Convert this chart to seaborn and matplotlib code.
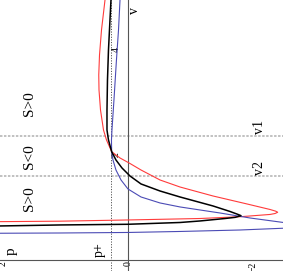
import numpy as np
import pandas as pd
import matplotlib
matplotlib.use("Agg")
import matplotlib.pyplot as plt
import seaborn as sns
from matplotlib.ticker import FixedLocator, MultipleLocator

sns.set_style("white")
plt.rcParams['font.family'] = ['Liberation Serif', 'DejaVu Serif']

# ---- data (p, v) ----
black_p = [0.273, 0.289, 0.313, 0.329, 0.337, 0.337, 0.313, 0.262, 0.193, 0.096, -0.032, -0.209,
           -0.514, -0.835, -1.364, -1.637, -1.760, -1.814, -1.720, -1.557, -1.156, -0.835, 0.0, 1.091, 2.054]
black_v = [4.95, 4.571, 4.0, 3.429, 2.857, 2.476, 2.286, 2.063, 1.905, 1.752, 1.6, 1.448,
           1.314, 1.2, 1.029, 0.924, 0.870, 0.844, 0.812, 0.790, 0.743, 0.714, 0.68, 0.667, 0.648]

red_p = [0.369, 0.425, 0.457, 0.469, 0.465, 0.441, 0.393, 0.345, 0.262, 0.128, -0.032, -0.209,
         -0.514, -0.835, -1.364, -1.910, -2.279, -2.370, -2.403, -2.360, -2.279, -1.814, -1.156, 0.0, 1.091, 2.054]
red_v = [4.95, 4.381, 3.905, 3.524, 3.238, 2.857, 2.476, 2.286, 2.063, 1.943, 1.838, 1.714,
         1.524, 1.390, 1.219, 1.067, 0.962, 0.930, 0.909, 0.885, 0.867, 0.825, 0.790, 0.762, 0.739, 0.730]

blue_p = [0.128, 0.152, 0.185, 0.225, 0.257, 0.265, 0.262, 0.241, 0.193, 0.112, 0.0, -0.209,
          -0.514, -0.835, -1.477, -1.958, -2.520, -2.70, -2.520, -1.798, -0.835, 0.0, 1.091, 2.054]
blue_v = [4.95, 4.381, 3.810, 3.048, 2.476, 2.286, 2.063, 1.905, 1.714, 1.524, 1.352, 1.2,
          1.086, 1.010, 0.895, 0.8, 0.710, 0.66, 0.606, 0.571, 0.543, 0.524, 0.514, 0.509]

p_plus = 0.273
v1 = 2.362
v2 = 1.60
x_major = [-2, 0, 2]
y_major = [2, 4]
region_labels = ["S>0", "S<0", "S>0"]
region_v = [2.985, 1.968, 1.175]

fig = plt.figure(figsize=(2.83, 2.71), dpi=100)
ax = fig.add_axes([0, 0, 1, 1])

# reference lines
for vv in (v1, v2):
    ax.axhline(vv, color='#b0b0b0', lw=1.1, ls=(0, (1.6, 1.0)), zorder=1)
ax.axvline(p_plus, color='#555555', lw=0.7, ls=(0, (1.2, 1.5)), zorder=1)

# curves
curves = [("red", red_p, red_v, '#ff3b3b', 0.8),
          ("blue", blue_p, blue_v, '#4b4bb5', 0.8),
          ("black", black_p, black_v, 'black', 1.1)]
for name, pp, vv, col, lw in curves:
    df = pd.DataFrame({"p": pp, "v": vv})
    sns.lineplot(data=df, x="p", y="v", sort=False, estimator=None, color=col,
                 lw=lw, ax=ax, zorder=4 if name == "black" else 3)

ax.set_xlim(2.054, -2.488)
ax.set_ylim(-0.21, 4.952)
ax.set_xlabel("")
ax.set_ylabel("")

# axes through origin
for s in ('top', 'right'):
    ax.spines[s].set_visible(False)
ax.spines['left'].set_position(('data', 0))
ax.spines['bottom'].set_position(('data', 0))
for s in ('left', 'bottom'):
    ax.spines[s].set_color('#555555')
    ax.spines[s].set_linewidth(0.8)

ax.xaxis.set_major_locator(FixedLocator(x_major))
ax.xaxis.set_minor_locator(MultipleLocator(0.4))
ax.yaxis.set_major_locator(FixedLocator(y_major))
ax.yaxis.set_minor_locator(MultipleLocator(0.4))
ax.set_xticklabels([str(t).replace('-', '\u2212') for t in x_major])
ax.set_yticklabels([str(t) for t in y_major])
ax.tick_params(axis='x', which='both', direction='in', colors='#555555', labelcolor='black',
               labelsize=7, labelrotation=90, pad=1)
ax.tick_params(axis='x', which='major', length=4, width=0.7)
ax.tick_params(axis='x', which='minor', length=2.5, width=0.6)
ax.tick_params(axis='y', which='both', direction='out', colors='#555555', labelcolor='black',
               labelsize=7, labelrotation=90, pad=1)
ax.tick_params(axis='y', which='major', length=4, width=0.7)
ax.tick_params(axis='y', which='minor', length=2.5, width=0.6)
for lab in ax.get_yticklabels():
    lab.set_va('center')

# texts
tk = dict(rotation=90, ha='center', va='center', color='black')
ax.text(1.867, 0.171, "p", fontsize=11, **tk)
ax.text(0.461, 0.204, "p+", fontsize=10, **tk)
for lab, vv in zip(region_labels, region_v):
    ax.text(1.573, vv, lab, fontsize=11, **tk)
ax.text(-2.108, 2.539, "v1", fontsize=10, **tk)
ax.text(-2.108, 1.747, "v2", fontsize=10, **tk)
ax.text(-0.112, 4.76, "v", fontsize=10, **tk)

fig.savefig("out.png", dpi=100)
